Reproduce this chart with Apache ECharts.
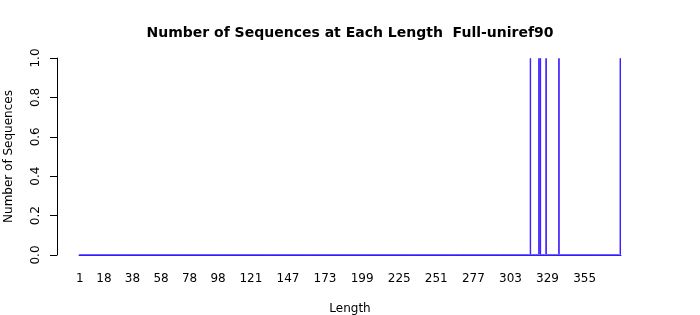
<!DOCTYPE html>
<html>
<head>
<meta charset="utf-8">
<script src="https://cdn.jsdelivr.net/npm/echarts@6/dist/echarts.min.js"></script>
<style>
html,body{margin:0;padding:0;background:#fff;}
#c{width:700px;height:315px;}
</style>
</head>
<body>
<div id="c"></div>
<script>
// Sequence lengths shown on the axis run from 1 to maxLength
var maxLength = 380;
// Lengths that have sequences, and how many sequences each has
var observedLengths = [317, 323, 324, 328, 337, 380];
var observedCounts  = [1, 1, 1, 1, 1, 1];
// Tick labels printed under the bars
var tickLabels = ['1','18','38','58','78','98','121','147','173','199','225','251','277','303','329','355'];
var yTicks = [0, 0.2, 0.4, 0.6, 0.8, 1.0];

var categories = [];
var counts = [];
for (var i = 1; i <= maxLength; i++) {
  categories.push(String(i));
  var idx = observedLengths.indexOf(i);
  counts.push(idx >= 0 ? observedCounts[idx] : 0);
}

var chart = echarts.init(document.getElementById('c'), null, {renderer: 'canvas'});
var font = 'DejaVu Sans';
chart.setOption({
  animation: false,
  backgroundColor: '#ffffff',
  title: {
    text: 'Number of Sequences at Each Length  Full-uniref90',
    left: 'center', top: 21,
    textStyle: {fontFamily: font, fontSize: 14, fontWeight: 'bold', color: '#000'}
  },
  grid: {left: 79, right: 79, top: 58, bottom: 60, containLabel: false, outerBoundsMode: 'none'},
  xAxis: {
    type: 'category',
    data: categories,
    boundaryGap: true,
    name: 'Length',
    nameLocation: 'middle',
    nameGap: 48,
    nameTextStyle: {fontFamily: font, fontSize: 12, color: '#000'},
    axisLine: {show: true, lineStyle: {color: '#1f1fff', width: 1}},
    axisTick: {show: false},
    axisLabel: {
      interval: function (index, value) { return tickLabels.indexOf(value) >= 0; },
      fontFamily: font, fontSize: 12, color: '#000', margin: 18,
      hideOverlap: false
    },
    splitLine: {show: false}
  },
  yAxis: {
    type: 'value',
    min: 0, max: 1, interval: 0.2,
    offset: 22,
    name: 'Number of Sequences',
    nameLocation: 'middle',
    nameGap: 42,
    nameRotate: 90,
    nameTextStyle: {fontFamily: font, fontSize: 12, color: '#000'},
    axisLine: {show: true, lineStyle: {color: '#000', width: 1}},
    axisTick: {show: true, length: 7, lineStyle: {color: '#000'}},
    axisLabel: {
      rotate: 90, margin: 15, fontFamily: font, fontSize: 12, color: '#000',
      formatter: function (v) { return v.toFixed(1); }
    },
    splitLine: {show: false}
  },
  series: [{
    type: 'bar',
    data: counts,
    barWidth: '100%',
    itemStyle: {color: '#7a00d0', borderColor: '#3a20ff', borderWidth: 1}
  }]
});
</script>
</body>
</html>
